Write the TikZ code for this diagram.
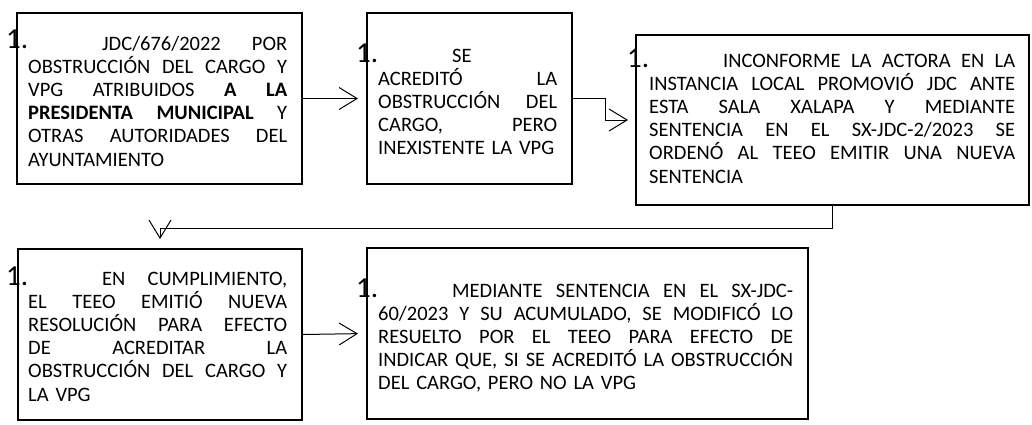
\documentclass[tikz,border=0pt]{standalone}
\usepackage{fontspec}
\setmainfont{Carlito}
\usetikzlibrary{arrows.meta}
\newcommand\JL[1]{\par\noindent\hbox to\linewidth{\spaceskip=0.226em plus 1fil\relax #1}}
\newcommand\LL[1]{\par\noindent\hbox to\linewidth{#1\hfil}}
\newcommand\FL[2][0pt]{\noindent\hbox to\linewidth{\hskip-22pt\rlap{\raisebox{#1}{\fontsize{29}{29}\selectfont 1.}}\hskip96pt\spaceskip=0.226em plus 1fil\relax #2}}
\tikzset{
  box/.style={draw, line width=2pt, inner sep=0pt, anchor=north west},
  txt/.style={inner sep=0pt, anchor=base west, text width=#1, font=\fontsize{20.5}{23.2}\selectfont},
  arr/.style={line width=1pt, -{Straight Barb[length=18pt,width=22pt]}}
}
\begin{document}
\begin{tikzpicture}[x=1pt,y=-1pt]
\useasboundingbox (0,0) rectangle (1032,424);
% boxes
\node[box, minimum width=285pt, minimum height=171pt] (b1) at (16,12) {};
\node[box, minimum width=205pt, minimum height=171pt] (b2) at (366,12) {};
\node[box, minimum width=393pt, minimum height=170pt] (b3) at (635,34) {};
\node[box, minimum width=284pt, minimum height=171pt] (b4) at (17,248) {};
\node[box, minimum width=441pt, minimum height=171pt] (b5) at (366,247) {};
% texts
\node[txt=259pt] (t1) at ([shift={(12,38)}]b1.north west) {%
\FL[2pt]{JDC/676/2022 POR}
\JL{OBSTRUCCIÓN DEL CARGO Y}
\JL{VPG ATRIBUIDOS \textbf{A LA}}
\JL{\textbf{PRESIDENTA MUNICIPAL} Y}
\JL{OTRAS AUTORIDADES DEL}
\LL{AYUNTAMIENTO}};
\node[txt=179pt] (t2) at ([shift={(12,50)}]b2.north west) {%
\FL{SE\hfil}
\JL{ACREDITÓ LA}
\JL{OBSTRUCCIÓN DEL}
\JL{CARGO, PERO}
\LL{INEXISTENTE LA VPG}};
\node[txt=366pt] (t3) at ([shift={(14,33)}]b3.north west) {%
\FL{INCONFORME LA ACTORA EN LA}
\JL{INSTANCIA LOCAL PROMOVIÓ JDC ANTE}
\JL{ESTA SALA XALAPA Y MEDIANTE}
\JL{SENTENCIA EN EL SX-JDC-2/2023 SE}
\JL{ORDENÓ AL TEEO EMITIR UNA NUEVA}
\LL{SENTENCIA}};
\node[txt=259pt] (t4) at ([shift={(11,37)}]b4.north west) {%
\FL{EN CUMPLIMIENTO,}
\JL{EL TEEO EMITIÓ NUEVA}
\JL{RESOLUCIÓN PARA EFECTO}
\JL{DE ACREDITAR LA}
\JL{OBSTRUCCIÓN DEL CARGO Y}
\LL{LA VPG}};
\node[txt=415pt] (t5) at ([shift={(12,50)}]b5.north west) {%
\FL{MEDIANTE SENTENCIA EN EL SX-JDC-}
\JL{60/2023 Y SU ACUMULADO, SE MODIFICÓ LO}
\JL{RESUELTO POR EL TEEO PARA EFECTO DE}
\JL{INDICAR QUE, SI SE ACREDITÓ LA OBSTRUCCIÓN}
\LL{DEL CARGO, PERO NO LA VPG}};
% connectors
\draw[arr, shorten >=8pt] (b1.east) -- (b2.west);
\draw[arr, shorten >=7pt] (b2.east) -- ++(32,0) |- (b3.west);
\draw[arr, shorten >=9pt] (b3.south) -- ++(0,22) -| (b4.north);
\draw[arr, shorten >=8pt] (b4.east) -- (b5.west);
\end{tikzpicture}
\end{document}
